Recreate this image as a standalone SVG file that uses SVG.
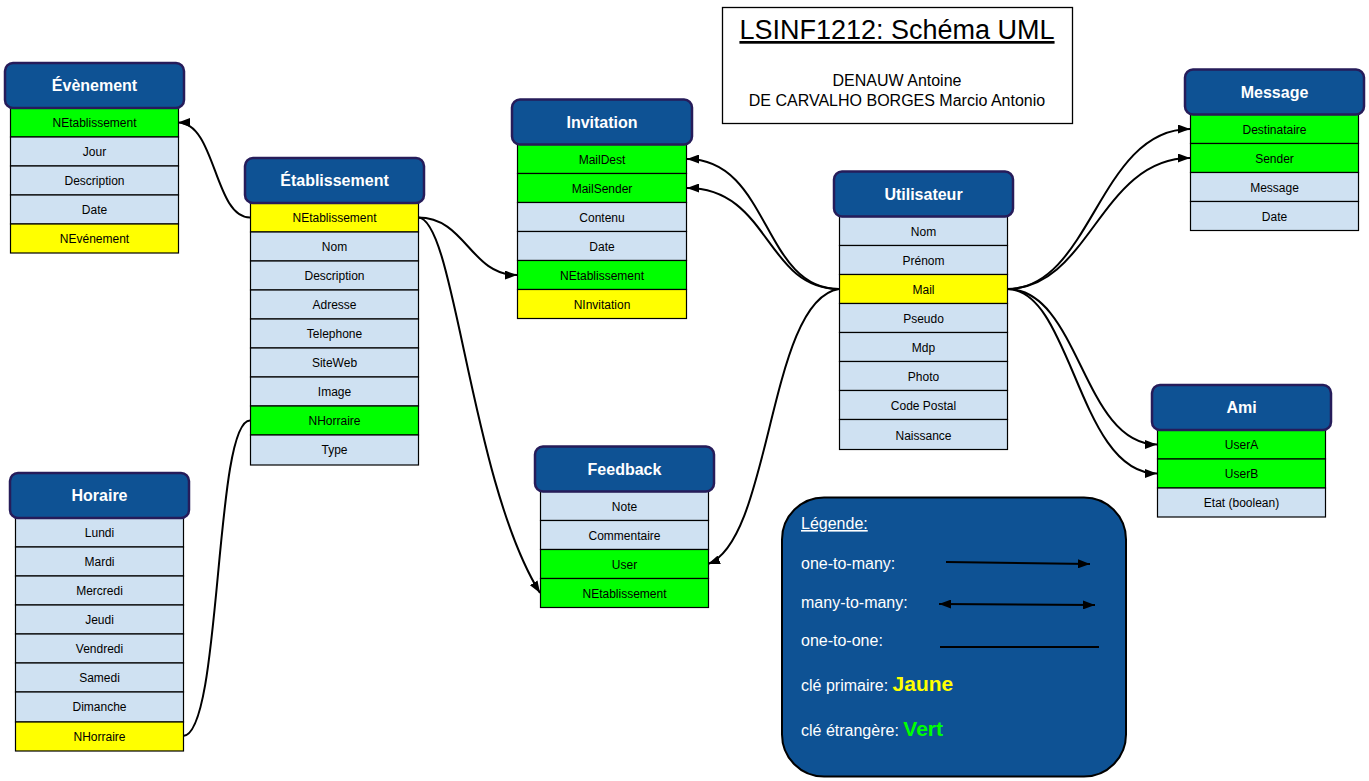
<svg xmlns="http://www.w3.org/2000/svg" width="1369" height="781" viewBox="0 0 1369 781">
<defs>
<style>
.hdr{fill:#0E5294;stroke:#261C5A;stroke-width:2.5}
.ht{font-family:"Liberation Sans",Arial,sans-serif;font-weight:bold;font-size:16px;fill:#fff;text-anchor:middle}
.r{fill:#CFE1F2;stroke:#000;stroke-width:1.2}
.pk{fill:#FFFF00;stroke:#000;stroke-width:1.2}
.fk{fill:#00FF00;stroke:#000;stroke-width:1.2}
.rt{font-family:"Liberation Sans",Arial,sans-serif;font-size:12px;fill:#000;text-anchor:middle}
.c{fill:none;stroke:#000;stroke-width:2}
.lt{font-family:"Liberation Sans",Arial,sans-serif;font-size:16px;fill:#fff}
</style>
<marker id="ah" viewBox="0 0 12 9" refX="12" refY="4.5" markerWidth="12" markerHeight="9" markerUnits="userSpaceOnUse" orient="auto-start-reverse">
<path d="M0,0 L12,4.5 L0,9 z" fill="#000"/>
</marker>
</defs>
<rect width="1369" height="781" fill="#fff"/>

<g id="connectors">
<path class="c" d="M250,217.5 C214,217.5 216,122.5 178,122.5" marker-end="url(#ah)"/>
<path class="c" d="M418,217.5 C466,217.5 470,275 517,275" marker-end="url(#ah)"/>
<path class="c" d="M418,217.5 C455,217.5 470,480 540,593" marker-end="url(#ah)"/>
<path class="c" d="M250,420.5 C214,420.5 222,736 183,736"/>
<path class="c" d="M839,289 C762,289 770,159 687,159" marker-end="url(#ah)"/>
<path class="c" d="M839,289 C765,289 770,188 687,188" marker-end="url(#ah)"/>
<path class="c" d="M839,289 C768,300 772,540 708,564" marker-end="url(#ah)"/>
<path class="c" d="M1007,289 C1092,289 1098,129 1190,129" marker-end="url(#ah)"/>
<path class="c" d="M1007,289 C1090,289 1100,158 1190,158" marker-end="url(#ah)"/>
<path class="c" d="M1007,289 C1080,289 1082,444.5 1157,444.5" marker-end="url(#ah)"/>
<path class="c" d="M1007,289 C1072,289 1078,473.5 1157,473.5" marker-end="url(#ah)"/>
</g>

<g id="evenement" transform="translate(10.5,108)">
<rect class="fk" x="0" y="0" width="168" height="29"/><text class="rt" x="84" y="19">NEtablissement</text>
<rect class="r" x="0" y="29" width="168" height="29"/><text class="rt" x="84" y="48">Jour</text>
<rect class="r" x="0" y="58" width="168" height="29"/><text class="rt" x="84" y="77">Description</text>
<rect class="r" x="0" y="87" width="168" height="29"/><text class="rt" x="84" y="106">Date</text>
<rect class="pk" x="0" y="116" width="168" height="29"/><text class="rt" x="84" y="135">NEvénement</text>
<rect class="hdr" x="-5.5" y="-45" width="179" height="45" rx="8"/><text class="ht" x="84" y="-17">Évènement</text>
</g>

<g id="etablissement" transform="translate(250.5,203)">
<rect class="pk" x="0" y="0" width="168" height="29"/><text class="rt" x="84" y="19">NEtablissement</text>
<rect class="r" x="0" y="29" width="168" height="29"/><text class="rt" x="84" y="48">Nom</text>
<rect class="r" x="0" y="58" width="168" height="29"/><text class="rt" x="84" y="77">Description</text>
<rect class="r" x="0" y="87" width="168" height="29"/><text class="rt" x="84" y="106">Adresse</text>
<rect class="r" x="0" y="116" width="168" height="29"/><text class="rt" x="84" y="135">Telephone</text>
<rect class="r" x="0" y="145" width="168" height="29"/><text class="rt" x="84" y="164">SiteWeb</text>
<rect class="r" x="0" y="174" width="168" height="29"/><text class="rt" x="84" y="193">Image</text>
<rect class="fk" x="0" y="203" width="168" height="29"/><text class="rt" x="84" y="222">NHorraire</text>
<rect class="r" x="0" y="232" width="168" height="30"/><text class="rt" x="84" y="251">Type</text>
<rect class="hdr" x="-5.5" y="-45" width="179" height="45" rx="8"/><text class="ht" x="84" y="-17">Établissement</text>
</g>

<g id="horaire" transform="translate(15.5,518)">
<rect class="r" x="0" y="0" width="168" height="29"/><text class="rt" x="84" y="19">Lundi</text>
<rect class="r" x="0" y="29" width="168" height="29"/><text class="rt" x="84" y="48">Mardi</text>
<rect class="r" x="0" y="58" width="168" height="29"/><text class="rt" x="84" y="77">Mercredi</text>
<rect class="r" x="0" y="87" width="168" height="29"/><text class="rt" x="84" y="106">Jeudi</text>
<rect class="r" x="0" y="116" width="168" height="29"/><text class="rt" x="84" y="135">Vendredi</text>
<rect class="r" x="0" y="145" width="168" height="29"/><text class="rt" x="84" y="164">Samedi</text>
<rect class="r" x="0" y="174" width="168" height="30"/><text class="rt" x="84" y="193">Dimanche</text>
<rect class="pk" x="0" y="204" width="168" height="29"/><text class="rt" x="84" y="223">NHorraire</text>
<rect class="hdr" x="-5.5" y="-45" width="179" height="45" rx="8"/><text class="ht" x="84" y="-17">Horaire</text>
</g>

<g id="invitation" transform="translate(517.5,144.5)">
<rect class="fk" x="0" y="0" width="169" height="29"/><text class="rt" x="84.5" y="19">MailDest</text>
<rect class="fk" x="0" y="29" width="169" height="29"/><text class="rt" x="84.5" y="48">MailSender</text>
<rect class="r" x="0" y="58" width="169" height="29"/><text class="rt" x="84.5" y="77">Contenu</text>
<rect class="r" x="0" y="87" width="169" height="29"/><text class="rt" x="84.5" y="106">Date</text>
<rect class="fk" x="0" y="116" width="169" height="29"/><text class="rt" x="84.5" y="135">NEtablissement</text>
<rect class="pk" x="0" y="145" width="169" height="29"/><text class="rt" x="84.5" y="164">NInvitation</text>
<rect class="hdr" x="-5.5" y="-45" width="180" height="45" rx="8"/><text class="ht" x="84.5" y="-17">Invitation</text>
</g>

<g id="utilisateur" transform="translate(839.5,216.5)">
<rect class="r" x="0" y="0" width="168" height="29"/><text class="rt" x="84" y="19">Nom</text>
<rect class="r" x="0" y="29" width="168" height="29"/><text class="rt" x="84" y="48">Prénom</text>
<rect class="pk" x="0" y="58" width="168" height="29"/><text class="rt" x="84" y="77">Mail</text>
<rect class="r" x="0" y="87" width="168" height="29"/><text class="rt" x="84" y="106">Pseudo</text>
<rect class="r" x="0" y="116" width="168" height="29"/><text class="rt" x="84" y="135">Mdp</text>
<rect class="r" x="0" y="145" width="168" height="29"/><text class="rt" x="84" y="164">Photo</text>
<rect class="r" x="0" y="174" width="168" height="29"/><text class="rt" x="84" y="193">Code Postal</text>
<rect class="r" x="0" y="203" width="168" height="30"/><text class="rt" x="84" y="223">Naissance</text>
<rect class="hdr" x="-5.5" y="-45" width="179" height="45" rx="8"/><text class="ht" x="84" y="-17">Utilisateur</text>
</g>

<g id="message" transform="translate(1190.5,114.5)">
<rect class="fk" x="0" y="0" width="168" height="29"/><text class="rt" x="84" y="19">Destinataire</text>
<rect class="fk" x="0" y="29" width="168" height="29"/><text class="rt" x="84" y="48">Sender</text>
<rect class="r" x="0" y="58" width="168" height="29"/><text class="rt" x="84" y="77">Message</text>
<rect class="r" x="0" y="87" width="168" height="29"/><text class="rt" x="84" y="106">Date</text>
<rect class="hdr" x="-5.5" y="-45" width="179" height="45" rx="8"/><text class="ht" x="84" y="-17">Message</text>
</g>

<g id="ami" transform="translate(1157.5,430)">
<rect class="fk" x="0" y="0" width="168" height="29"/><text class="rt" x="84" y="19">UserA</text>
<rect class="fk" x="0" y="29" width="168" height="29"/><text class="rt" x="84" y="48">UserB</text>
<rect class="r" x="0" y="58" width="168" height="29"/><text class="rt" x="84" y="77">Etat (boolean)</text>
<rect class="hdr" x="-5.5" y="-45" width="179" height="45" rx="8"/><text class="ht" x="84" y="-17">Ami</text>
</g>

<g id="feedback" transform="translate(540.5,491.5)">
<rect class="r" x="0" y="0" width="168" height="29"/><text class="rt" x="84" y="19">Note</text>
<rect class="r" x="0" y="29" width="168" height="29"/><text class="rt" x="84" y="48">Commentaire</text>
<rect class="fk" x="0" y="58" width="168" height="29"/><text class="rt" x="84" y="77">User</text>
<rect class="fk" x="0" y="87" width="168" height="29"/><text class="rt" x="84" y="106">NEtablissement</text>
<rect class="hdr" x="-5.5" y="-45" width="179" height="45" rx="8"/><text class="ht" x="84" y="-17">Feedback</text>
</g>

<g id="title">
<rect x="722.5" y="7.5" width="350" height="116" fill="#fff" stroke="#000" stroke-width="1.3"/>
<text x="897" y="39" font-family="Liberation Sans, Arial, sans-serif" font-size="27" text-anchor="middle" text-decoration="underline" fill="#000">LSINF1212: Schéma UML</text>
<text x="897" y="86" font-family="Liberation Sans, Arial, sans-serif" font-size="16" text-anchor="middle" fill="#000">DENAUW Antoine</text>
<text x="897" y="106" font-family="Liberation Sans, Arial, sans-serif" font-size="16" text-anchor="middle" fill="#000">DE CARVALHO BORGES Marcio Antonio</text>
</g>

<g id="legend">
<rect x="782" y="497.5" width="344" height="279" rx="42" fill="#0E5294" stroke="#000" stroke-width="2"/>
<text class="lt" x="801" y="529" text-decoration="underline">Légende:</text>
<text class="lt" x="801" y="569">one-to-many:</text>
<text class="lt" x="801" y="608">many-to-many:</text>
<text class="lt" x="801" y="646">one-to-one:</text>
<text class="lt" x="801" y="691">clé primaire: <tspan font-weight="bold" font-size="21" fill="#FFFF00">Jaune</tspan></text>
<text class="lt" x="801" y="736">clé étrangère: <tspan font-weight="bold" font-size="21" fill="#00FF00">Vert</tspan></text>
<path class="c" d="M946,562 L1090,564" marker-end="url(#ah)"/>
<path class="c" d="M939,604 L1095,605" marker-start="url(#ah)" marker-end="url(#ah)"/>
<path class="c" d="M940,647 L1099,647"/>
</g>
</svg>
